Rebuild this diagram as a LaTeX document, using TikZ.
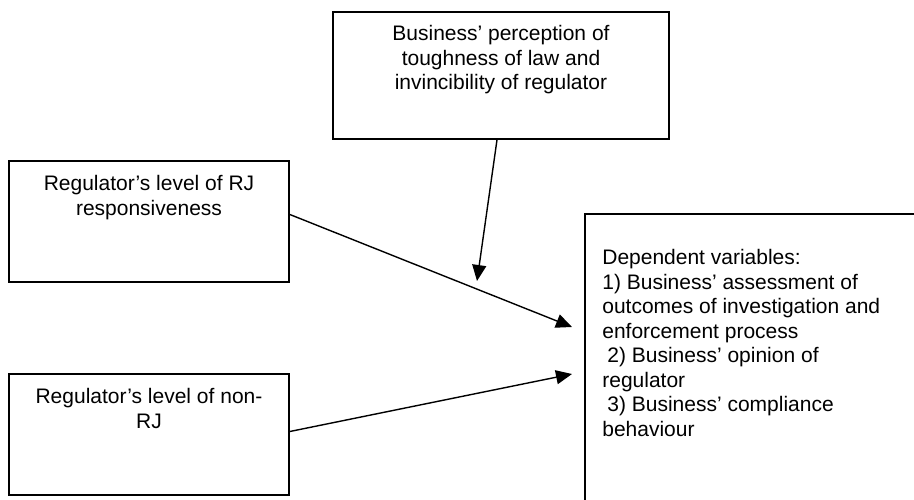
\documentclass[tikz,border=0pt]{standalone}
\usepackage{fontspec}
\setmainfont{Liberation Sans}
\usetikzlibrary{arrows.meta, positioning}

\begin{document}
\begin{tikzpicture}[x=1pt, y=-1pt,
    box/.style={draw, line width=1.7pt, inner sep=0pt},
    boxtext/.style={inner sep=0pt, align=center, font=\fontsize{21}{24.5}\selectfont},
    link/.style={line width=1.4pt, -{Triangle[length=16pt, width=14pt]}}]

    \useasboundingbox (0,0) rectangle (914,500);
    \clip (0,0) rectangle (914,500);

    % boxes
    \node[box, minimum width=336pt, minimum height=127pt] (law) at (501,75.5) {};
    \node[box, minimum width=280pt, minimum height=121pt] (rj) at (149,221.5) {};
    \node[box, minimum width=280pt, minimum height=121pt] (nonrj) at (149,434.5) {};
    \node[box, minimum width=400pt, minimum height=340pt] (dv) at (785,384) {};

    % texts
    \node[boxtext, below=14pt of law.north] (lawtext)
        {Business’ perception of\\toughness of law and\\invincibility of regulator};
    \node[boxtext, below=15pt of rj.north] (rjtext)
        {Regulator’s level of RJ\\responsiveness};
    \node[boxtext, below=15pt of nonrj.north] (nonrjtext)
        {Regulator’s level of non-\\RJ};
    \node[boxtext, align=left, below right=36pt and 18pt of dv.north west] (dvtext)
        {Dependent variables:\\
         1) Business’ assessment of\\
         outcomes of investigation and\\
         enforcement process\\
         \hspace*{5pt}2) Business’ opinion of\\
         regulator\\
         \hspace*{5pt}3) Business’ compliance\\
         behaviour};

    % arrows
    \coordinate (tipa) at (572,327);
    \coordinate (tipb) at (572,374);
    \coordinate (tipc) at (477,281);
    \draw[link] ([yshift=7pt]rj.east) -- (tipa);
    \draw[link] ([yshift=3pt]nonrj.east) -- (tipb);
    \draw[link] ([xshift=-4pt]law.south) -- (tipc);

\end{tikzpicture}
\end{document}
